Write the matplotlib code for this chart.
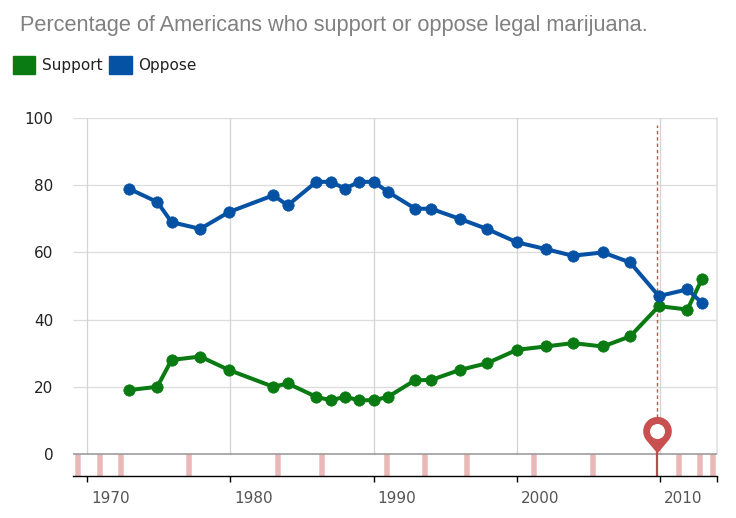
import numpy as np
import matplotlib
matplotlib.use("Agg")
import matplotlib.pyplot as plt
from matplotlib.path import Path
from matplotlib.patches import Patch
from matplotlib.transforms import ScaledTranslation

TITLE = "Percentage of Americans who support or oppose legal marijuana."
years = [1972.9, 1974.9, 1975.9, 1977.9, 1979.9, 1983.0, 1984.0, 1986.0, 1987.0, 1988.0,
         1989.0, 1990.0, 1991.0, 1992.9, 1994.0, 1996.0, 1997.9, 2000.0, 2002.0, 2003.9,
         2006.0, 2007.9, 2009.9, 2011.9, 2012.9]
support = [19, 20, 28, 29, 25, 20, 21, 17, 16, 17, 16, 16, 17, 22, 22, 25, 27, 31, 32, 33,
           32, 35, 44, 43, 52]
oppose = [79, 75, 69, 67, 72, 77, 74, 81, 81, 79, 81, 81, 78, 73, 73, 70, 67, 63, 61, 59,
          60, 57, 47, 49, 45]
event_years = [1969.4, 1970.9, 1972.4, 1977.1, 1983.3, 1986.4, 1990.95, 1993.6, 1996.5,
               2001.2, 2005.3, 2011.3, 2012.75, 2013.65]
selected_year = 2009.8
x_ticks = [1970, 1980, 1990, 2000, 2010]
y_ticks = [0, 20, 40, 60, 80, 100]

GREEN, BLUE, RED = "#0a7a12", "#0552a5", "#c85050"
W, H = 736, 518
L, R, T, B = 73, 717, 118, 475.5
fig = plt.figure(figsize=(W / 100, H / 100), dpi=100, facecolor="white")
ax = fig.add_axes([L / W, 1 - B / H, (R - L) / W, (B - T) / H])
ax.set_xlim(1969.02, 2013.96)
ax.set_ylim(-6.4, 100)
for s in ("top", "left", "right"):
    ax.spines[s].set_visible(False)
ax.spines["bottom"].set_color("black")
ax.spines["bottom"].set_linewidth(1)
px = 0.72
for y in y_ticks:
    ax.plot([1969.02, 2013.96], [y, y], color="#999999" if y == 0 else "#dddddd",
            lw=(1.6 if y == 0 else 1.3) * px, zorder=1.6 if y == 0 else 1, solid_capstyle="butt")
for x in x_ticks:
    ax.plot([x, x], [0, 100], color="#d4d4d4", lw=1.3 * px, zorder=1)
ax.plot([2013.96, 2013.96], [0, 100], color="#dddddd", lw=1.5 * px, zorder=1, clip_on=False)

for e in event_years:
    ax.plot([e, e], [-6.4, 0], color="#ebb8b8", lw=5.5 * px, zorder=1.5, solid_capstyle="butt")

ax.plot([selected_year] * 2, [7, 98], color=RED, lw=1.4 * px, ls=(0, (2.5, 2)), zorder=1.8)
ax.plot([selected_year] * 2, [-6.4, 1], color="#b05050", lw=2.2 * px, zorder=2.1, solid_capstyle="butt")

ax.plot(years, support, color=GREEN, lw=2.9, marker="o", ms=8.2, mec=GREEN, mew=0.5, zorder=3, label="Support")
ax.plot(years, oppose, color=BLUE, lw=2.9, marker="o", ms=8.2, mec=BLUE, mew=0.5, zorder=3.1, label="Oppose")

# map pin: tip at origin, round head above it, straight sides tangent to the head
r, h = 13.5, 21.0
a0 = np.arcsin(r / h)
ang = np.linspace(-a0, np.pi + a0, 60)
verts = [(0, 0)] + [(r * np.cos(t), h + r * np.sin(t)) for t in ang] + [(0, 0)]
pin = Path(verts, closed=True)
extent = h + r
ax.plot([selected_year], [0.3], marker=pin, ms=2 * extent * px * 1.06, color=RED, mec="none", zorder=4, clip_on=False)
ax.plot([selected_year], [6.8], marker="o", ms=15 * px, color="white", mec="none", zorder=4.1)

ax.set_yticks(y_ticks)
ax.tick_params(axis="y", length=0, pad=14, labelsize=11, labelcolor="#222222", left=False)
ax.set_xticks(x_ticks + [2013.96])
ax.set_xticklabels([str(x) for x in x_ticks] + [""])
ax.tick_params(axis="x", length=4.5, width=1, color="black", pad=7, labelsize=11, labelcolor="#555555")
off = ScaledTranslation(4 / 100, 0, fig.dpi_scale_trans)
for lab in ax.get_xticklabels():
    lab.set_ha("left")
    lab.set_transform(lab.get_transform() + off)

fig.text(20 / W, 1 - 25 / H, TITLE, family="Liberation Sans", fontsize=15.65, color="#808080", va="center", ha="left")
handles = [Patch(facecolor=GREEN, edgecolor=GREEN, label="Support"), Patch(facecolor=BLUE, edgecolor=BLUE, label="Oppose")]
leg = fig.legend(handles=handles, loc="center left", bbox_to_anchor=(13 / W, 1 - 65 / H), ncol=2, frameon=False,
                 fontsize=11, handlelength=1.45, handleheight=1.5, handletextpad=0.42, columnspacing=0.47,
                 borderpad=0, borderaxespad=0, labelcolor="#222222")
fig.savefig("out.png", dpi=100, facecolor="white")
